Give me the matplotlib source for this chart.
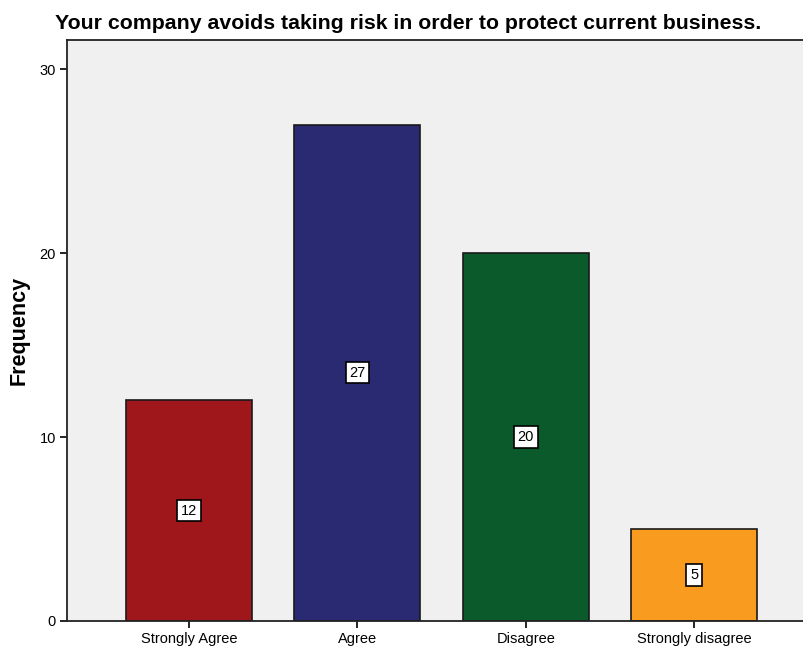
import numpy as np
import matplotlib.pyplot as plt

plt.rcParams['font.family'] = ['Liberation Sans', 'DejaVu Sans']

categories = ['Strongly Agree', 'Agree', 'Disagree', 'Strongly disagree']
frequency = [12, 27, 20, 5]
bar_colors = ['#A0171B', '#292A72', '#0B5A2C', '#F99B1E']

fig = plt.figure(figsize=(8.04, 6.49), dpi=100)
ax = fig.add_axes([67/804, 1 - 621/649, (816 - 67)/804, (621 - 40)/649])
ax.set_facecolor('#F0F0F0')

x = np.arange(len(categories))
bars = ax.bar(x, frequency, width=0.75, color=bar_colors,
              edgecolor='#1a1a1a', linewidth=1.2, zorder=2)

for xi, v in zip(x, frequency):
    ax.text(xi, v / 2, str(v), ha='center', va='center', fontsize=10.5,
            bbox=dict(boxstyle='square,pad=0.25', fc='white', ec='black', lw=1.2),
            zorder=3)

ax.set_xlim(-0.724, len(categories) - 1 + 0.724)
ax.set_ylim(0, 31.6)
ax.set_yticks([0, 10, 20, 30])
ax.set_xticks(x)
ax.set_xticklabels(categories)
ax.tick_params(axis='both', direction='out', length=5, width=1.2, labelsize=10.5, pad=3)
for side in ['left', 'bottom', 'top']:
    ax.spines[side].set_linewidth(1.3)
    ax.spines[side].set_color('#222222')
ax.spines['right'].set_visible(False)

ax.set_ylabel('Frequency', fontsize=15.5, fontweight='bold')
# place the y label by figure pixels from the left edge
ax.yaxis.set_label_coords((30 - 67) / 749, 0.5)
fig.text(0.508, 0.964, 'Your company avoids taking risk in order to protect current business.',
         ha='center', va='center', fontsize=15.3, fontweight='bold')

fig.savefig('out.png', dpi=100)
